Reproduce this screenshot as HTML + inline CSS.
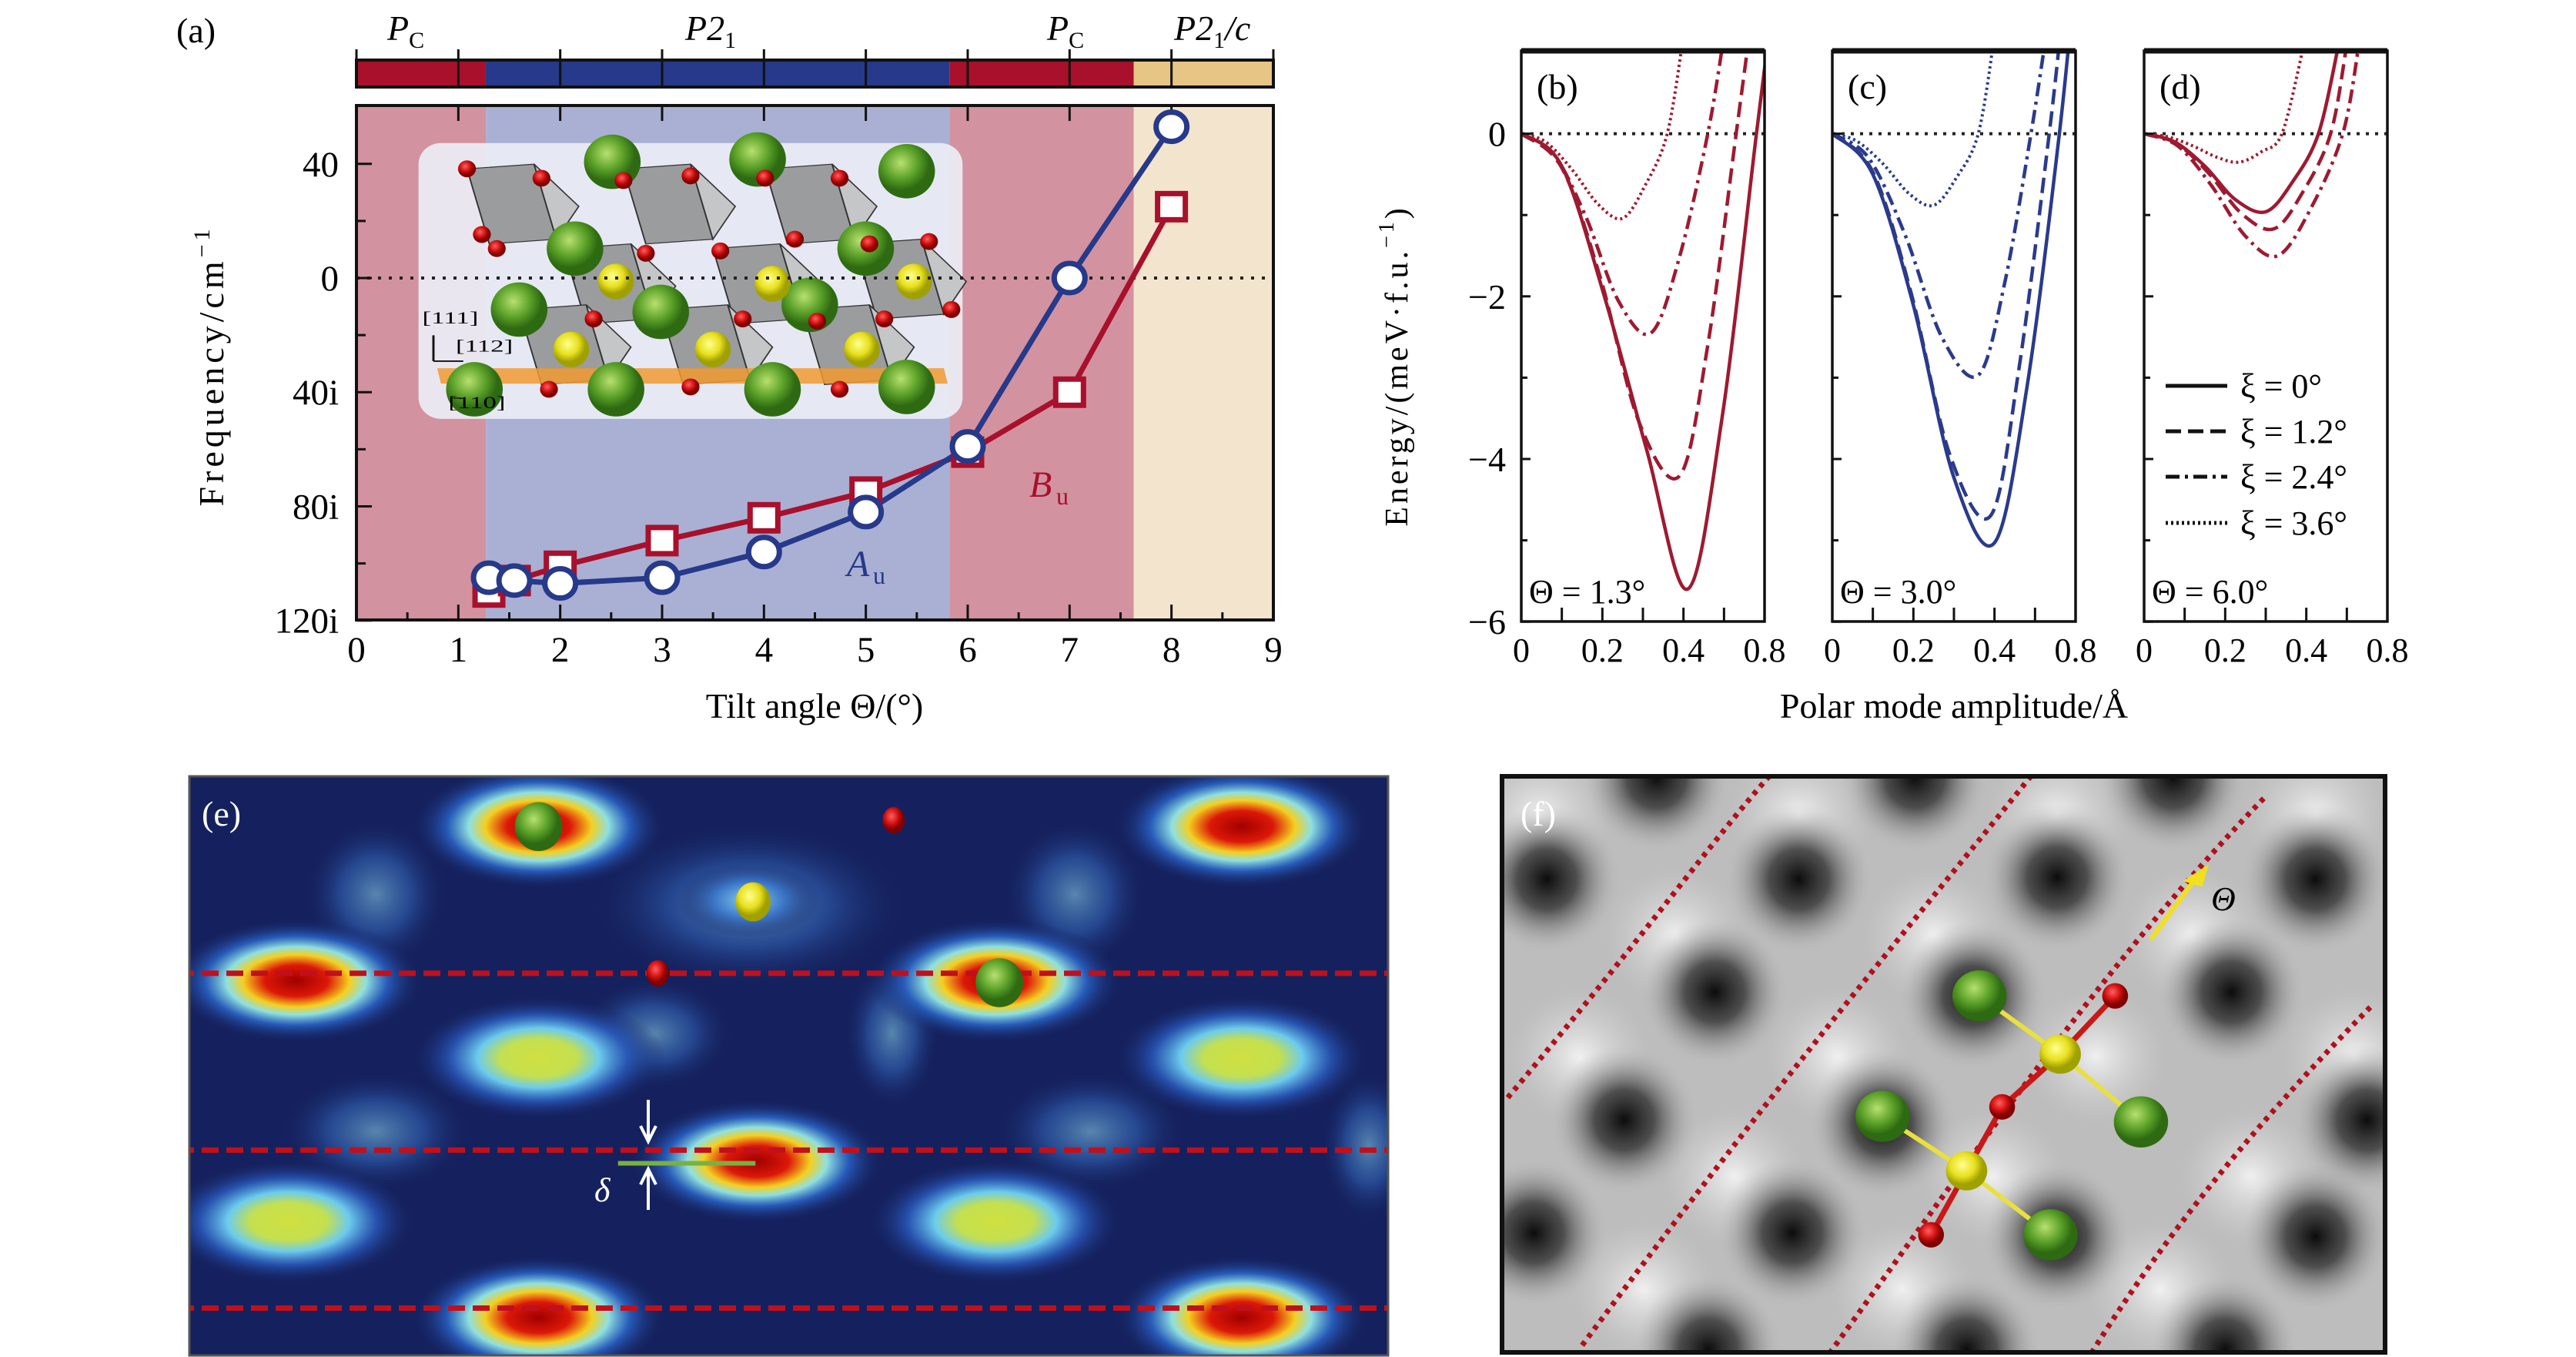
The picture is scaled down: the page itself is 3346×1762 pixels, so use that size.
<!DOCTYPE html>
<html><head><meta charset="utf-8"><style>
html,body{margin:0;padding:0;background:#fff;}
svg{display:block;}
text{font-family:"Liberation Serif",serif;}
</style></head><body>
<svg id="fig" xmlns="http://www.w3.org/2000/svg" width="3346" height="1762" viewBox="0 0 3346 1762">
<defs>
<radialGradient id="gRed"><stop offset="0" stop-color="#a00000"/><stop offset="0.25" stop-color="#dc1808"/><stop offset="0.42" stop-color="#f4d020"/><stop offset="0.55" stop-color="#8fe0e0"/><stop offset="0.72" stop-color="#2a64c8" stop-opacity="0.85"/><stop offset="1" stop-color="#16215c" stop-opacity="0"/></radialGradient>
<radialGradient id="gYel"><stop offset="0" stop-color="#d0e040"/><stop offset="0.3" stop-color="#c4e050"/><stop offset="0.48" stop-color="#6ccbee"/><stop offset="0.7" stop-color="#2a5cc0" stop-opacity="0.8"/><stop offset="1" stop-color="#16215c" stop-opacity="0"/></radialGradient>
<radialGradient id="gHalo"><stop offset="0" stop-color="#8fd8f0"/><stop offset="0.5" stop-color="#3a78d0" stop-opacity="0.8"/><stop offset="1" stop-color="#16215c" stop-opacity="0"/></radialGradient>
<radialGradient id="gDark"><stop offset="0" stop-color="#0c0c0c"/><stop offset="0.4" stop-color="#3a3a3a" stop-opacity="0.85"/><stop offset="1" stop-color="#bdbdbd" stop-opacity="0"/></radialGradient>
<radialGradient id="gLight"><stop offset="0" stop-color="#f0f0f0"/><stop offset="1" stop-color="#d0d0d0" stop-opacity="0"/></radialGradient>
<radialGradient id="gGreen" cx="0.4" cy="0.35"><stop offset="0" stop-color="#b8e070"/><stop offset="0.6" stop-color="#5aa028"/><stop offset="1" stop-color="#2e6a12"/></radialGradient>
<radialGradient id="gYball" cx="0.4" cy="0.35"><stop offset="0" stop-color="#ffff90"/><stop offset="0.6" stop-color="#e8e020"/><stop offset="1" stop-color="#a0a000"/></radialGradient>
<radialGradient id="gRball" cx="0.4" cy="0.35"><stop offset="0" stop-color="#ff6060"/><stop offset="0.6" stop-color="#d01010"/><stop offset="1" stop-color="#800000"/></radialGradient>
<clipPath id="clipA"><rect x="463" y="137" width="1191" height="668"/></clipPath>
<clipPath id="clipB"><rect x="1976" y="66" width="316" height="741"/></clipPath>
<clipPath id="clipC"><rect x="2380" y="66" width="316" height="741"/></clipPath>
<clipPath id="clipD"><rect x="2785" y="66" width="316" height="741"/></clipPath>
<clipPath id="clipE"><rect x="245" y="1007" width="1559" height="753"/></clipPath>
<clipPath id="clipF"><rect x="1950" y="1007" width="1148" height="749"/></clipPath>
</defs>
<g id="panelA"></g>
<g id="panelBCD"></g>
<g id="panelE" clip-path="url(#clipE)"></g>
<g id="panelF" clip-path="url(#clipF)"></g>
<g id="overlay"></g>
</svg>
<script>
// ---------- Panel (a) data ----------
const tiltB = [1.3, 1.55, 2, 3, 4, 5, 6, 7, 8];
const freqB = [-110, -106, -101, -92, -84, -75, -61, -40, 25];
const tiltA = [1.3, 1.55, 2, 3, 4, 5, 6, 7, 8];
const freqA = [-105, -106, -107, -105, -96, -82, -59, 0, 53];
const xTicksA = [0,1,2,3,4,5,6,7,8,9];
const yTicksA = [40, 0, -40, -80, -120];
const yTickLabelsA = ["40","0","40i","80i","120i"];
const phaseBounds = [0, 1.27, 5.82, 7.63, 9];
const phaseKinds = ["red","blue","red","tan"];

// ---------- Panels (b)-(d) data: amplitude (x) and energy (E) ----------
const ampB0=[0,.10,.205,.31,.41,.495,.58,.63], enB0=[0,-.4,-2.0,-3.9,-5.6,-3.5,0,2];
const ampB1=[0,.10,.195,.29,.39,.46,.53,.57], enB1=[0,-.42,-1.77,-3.54,-4.21,-2.6,0,1.5];
const ampB2=[0,.08,.16,.24,.32,.39,.46,.50], enB2=[0,-.25,-1.03,-2.06,-2.45,-1.52,0,1.2];
const ampB3=[0,.06,.125,.19,.25,.305,.36,.40], enB3=[0,-.1,-.44,-.87,-1.04,-.64,0,1.2];
const ampC0=[0,.10,.20,.30,.40,.48,.56,.60], enC0=[0,-.5,-2.11,-4.23,-5.03,-3.12,0,2];
const ampC1=[0,.10,.195,.29,.39,.46,.535,.57], enC1=[0,-.47,-1.97,-3.95,-4.7,-2.9,0,1.6];
const ampC2=[0,.09,.18,.27,.36,.425,.49,.53], enC2=[0,-.3,-1.25,-2.5,-2.97,-1.84,0,1.3];
const ampC3=[0,.06,.125,.19,.25,.305,.36,.40], enC3=[0,-.09,-.37,-.74,-.88,-.55,0,1.2];
const ampD0=[0,.075,.15,.225,.30,.365,.43,.48], enD0=[0,-.1,-.4,-.81,-.96,-.6,0,1.1];
const ampD1=[0,.08,.16,.24,.32,.39,.46,.50], enD1=[0,-.12,-.49,-.98,-1.17,-.73,0,1.1];
const ampD2=[0,.083,.165,.25,.33,.41,.49,.53], enD2=[0,-.15,-.63,-1.26,-1.5,-.93,0,1.1];
const ampD3=[0,.06,.12,.18,.235,.29,.34,.39], enD3=[0,-.04,-.15,-.29,-.35,-.22,0,1.0];
const xTicksE = [0, 0.2, 0.4, 0.6];
const xTickLabelsE = ["0","0.2","0.4","0.8"];
const yTicksE = [0, -2, -4, -6];
const yTickLabelsE = ["0","\u22122","\u22124","\u22126"];
const legendLabels = ["\u03be = 0\u00b0","\u03be = 1.2\u00b0","\u03be = 2.4\u00b0","\u03be = 3.6\u00b0"];
const thetaLabels = ["\u0398 = 1.3\u00b0","\u0398 = 3.0\u00b0","\u0398 = 6.0\u00b0"];

const NS="http://www.w3.org/2000/svg";
function mk(parent, tag, attrs, txt){const e=document.createElementNS(NS,tag);for(const k in attrs)e.setAttribute(k,attrs[k]);if(txt!==undefined)e.textContent=txt;parent.appendChild(e);return e;}
function smooth(pts){let d="M"+pts[0][0]+","+pts[0][1];for(let i=0;i<pts.length-1;i++){const p0=pts[Math.max(0,i-1)],p1=pts[i],p2=pts[i+1],p3=pts[Math.min(pts.length-1,i+2)];const c1=[p1[0]+(p2[0]-p0[0])/6,p1[1]+(p2[1]-p0[1])/6],c2=[p2[0]-(p3[0]-p1[0])/6,p2[1]-(p3[1]-p1[1])/6];d+=" C"+c1+" "+c2+" "+p2;}return d;}

// ---------- Panel A ----------
const A=document.getElementById('panelA');
const ax=x=>463+x*132.33, ay=v=>361-3.706*v;
const bg={red:"#d3929f",blue:"#a9b0d3",tan:"#f3e5cd"}, bar={red:"#a8102c",blue:"#26398a",tan:"#e6c585"};
for(let i=0;i<phaseKinds.length;i++){
  const r=mk(A,'rect',{x:ax(phaseBounds[i]),y:137,width:ax(phaseBounds[i+1])-ax(phaseBounds[i]),height:668,fill:bg[phaseKinds[i]]});
  
  
  const b=mk(A,'rect',{x:ax(phaseBounds[i]),y:78,width:ax(phaseBounds[i+1])-ax(phaseBounds[i]),height:35,fill:bar[phaseKinds[i]]});
  
  
}
mk(A,'rect',{x:463,y:78,width:1191,height:35,fill:"none",stroke:"#111","stroke-width":4});
xTicksA.forEach(t=>{mk(A,'line',{x1:ax(t),x2:ax(t),y1:64,y2:113,stroke:"#111","stroke-width":3});});
// inset
const inset=mk(A,'g',{transform:"translate(200,0) scale(0.968,0.609)"});


mk(inset,'rect',{x:355,y:305,width:730,height:588,rx:30,ry:45,fill:"#eceef5","fill-opacity":0.92});
const octs=[[470,420],[680,420],[870,420],[600,590],[800,590],[990,580],[540,720],[730,720],[920,720]];
octs.forEach(o=>{mk(inset,'polygon',{points:`${o[0]-50},${o[1]-60} ${o[0]+40},${o[1]-70} ${o[0]+70},${o[1]+90} ${o[0]-20},${o[1]+100}`,fill:"#9a9c9e",stroke:"#333","stroke-width":2});mk(inset,'polygon',{points:`${o[0]+40},${o[1]-70} ${o[0]+70},${o[1]+90} ${o[0]+100},${o[1]+20}`,fill:"#c4c6c8",stroke:"#333","stroke-width":2});});
mk(inset,'polygon',{points:"380,785 1060,785 1065,818 385,818",fill:"#f09a30","fill-opacity":0.85});
[[615,345],[810,340],[1010,365],[565,530],[955,530],[490,660],[680,665],[880,650],[620,830],[830,830],[1010,825],[430,830]].forEach(g=>mk(inset,'ellipse',{cx:g[0],cy:g[1],rx:38,ry:58,fill:"url(#gGreen)"}));
[[620,600],[830,605],[1020,600],[560,745],[750,745],[950,745]].forEach(g=>mk(inset,'ellipse',{cx:g[0],cy:g[1],rx:24,ry:38,fill:"url(#gYball)"}));
[[420,360],[520,380],[630,385],[720,375],[820,380],[920,380],[460,530],[660,540],[760,535],[960,520],[1040,515],[1070,660],[590,680],[790,680],[890,685],[980,680],[530,830],[720,825],[920,830],[440,500],[860,510]].forEach(g=>mk(inset,'ellipse',{cx:g[0],cy:g[1],rx:12,ry:18,fill:"url(#gRball)"}));
mk(inset,'text',{x:360,y:690,"font-size":36},"[111]");
mk(inset,'text',{x:405,y:750,"font-size":36},"[112]");
mk(inset,'text',{x:395,y:870,"font-size":36},"[\u0304110]");
mk(inset,'path',{d:"M375,770 V715 M375,770 H415",stroke:"#111","stroke-width":3,fill:"none"});
// zero dotted
mk(A,'line',{x1:463,x2:1654,y1:ay(0),y2:ay(0),stroke:"#222","stroke-width":4,"stroke-dasharray":"4 10"});
// axes frame
mk(A,'rect',{x:463,y:137,width:1191,height:668,fill:"none",stroke:"#111","stroke-width":4});
xTicksA.forEach(t=>{mk(A,'line',{x1:ax(t),x2:ax(t),y1:805,y2:785,stroke:"#111","stroke-width":3});mk(A,'line',{x1:ax(t),x2:ax(t),y1:137,y2:157,stroke:"#111","stroke-width":3});
  const l=mk(A,'text',{x:ax(t),y:859,"font-size":47,"text-anchor":"middle"},String(t));});
for(let t=0.5;t<9;t+=1){mk(A,'line',{x1:ax(t),x2:ax(t),y1:805,y2:795,stroke:"#111","stroke-width":3});}
yTicksA.forEach((t,i)=>{mk(A,'line',{x1:463,x2:483,y1:ay(t),y2:ay(t),stroke:"#111","stroke-width":3});
  const l=mk(A,'text',{x:440,y:ay(t)+16,"font-size":47,"text-anchor":"end"},yTickLabelsA[i]);});
[20,-20,-60,-100].forEach(t=>mk(A,'line',{x1:463,x2:475,y1:ay(t),y2:ay(t),stroke:"#111","stroke-width":3}));
// series
function polyl(xs,ys){return xs.map((x,i)=>ax(x)+","+ay(ys[i])).join(" ");}
const lineB=mk(A,'polyline',{points:polyl(tiltB,freqB),fill:"none",stroke:"#a8102c","stroke-width":7});

const lineA=mk(A,'polyline',{points:polyl(tiltA,freqA),fill:"none",stroke:"#26398a","stroke-width":7});

tiltB.forEach((t,i)=>{const s=mk(A,'rect',{x:ax(t)-18,y:ay(freqB[i])-17,width:36,height:34,fill:"#fff",stroke:"#a8102c","stroke-width":7});
  });
tiltA.forEach((t,i)=>{const c=mk(A,'ellipse',{cx:ax(t),cy:ay(freqA[i]),rx:20,ry:19,fill:"#fff",stroke:"#26398a","stroke-width":7});
  });
mk(A,'text',{x:1337,y:645,"font-size":48,fill:"#a8102c","font-style":"italic"},"B");
mk(A,'text',{x:1372,y:655,"font-size":32,fill:"#a8102c"},"u");
mk(A,'text',{x:1100,y:748,"font-size":48,fill:"#26398a","font-style":"italic"},"A");
mk(A,'text',{x:1134,y:758,"font-size":32,fill:"#26398a"},"u");
// phase labels
function phaseLabel(x,main,sub,tail){const t=mk(A,'text',{x:x,y:52,"font-size":46,"font-style":"italic"},main);
  const s=document.createElementNS(NS,'tspan');s.setAttribute('font-size',30);s.setAttribute('font-style','normal');s.setAttribute('dy',10);s.textContent=sub;t.appendChild(s);
  if(tail){const u=document.createElementNS(NS,'tspan');u.setAttribute('dy',-10);u.textContent=tail;t.appendChild(u);}}
phaseLabel(503,"P","C");phaseLabel(890,"P2","1");phaseLabel(1360,"P","C");phaseLabel(1525,"P2","1","/c");
mk(A,'text',{x:229,y:55,"font-size":46},"(a)");
const ytA=mk(A,'text',{x:0,y:0,"font-size":46,"text-anchor":"middle","letter-spacing":5,transform:"translate(290,475) rotate(-90)"},"Frequency/cm");
const sup=document.createElementNS(NS,'tspan');sup.setAttribute('dy',-18);sup.setAttribute('font-size',30);sup.textContent="\u22121";ytA.appendChild(sup);

const xtA=mk(A,'text',{x:1058,y:932,"font-size":46,"text-anchor":"middle"},"Tilt angle \u0398/(\u00b0)");


// ---------- Panels B-D ----------
const P=document.getElementById('panelBCD');
const lefts=[1976,2380,2785], W=316, TOP=66, BOT=807;
const ey=E=>173.6-105.6*E;
const red="#9e1a30", blue="#2a3a8c";
const dashes=["", "20 9", "18 7 4 7", "3 4"];
const panelsData=[
  {clip:"clipB",color:red,lab:"(b)",series:[[ampB0,enB0],[ampB1,enB1],[ampB2,enB2],[ampB3,enB3]]},
  {clip:"clipC",color:blue,lab:"(c)",series:[[ampC0,enC0],[ampC1,enC1],[ampC2,enC2],[ampC3,enC3]]},
  {clip:"clipD",color:red,lab:"(d)",series:[[ampD0,enD0],[ampD1,enD1],[ampD2,enD2],[ampD3,enD3]]}];
panelsData.forEach((pd,p)=>{
  const L=lefts[p], ex=x=>L+x/0.6*W;
  const g=mk(P,'g',{});
  
  mk(g,'line',{x1:L,x2:L+W,y1:ey(0),y2:ey(0),stroke:"#222","stroke-width":4,"stroke-dasharray":"4 8"});
  const cg=mk(g,'g',{"clip-path":`url(#${pd.clip})`});
  pd.series.forEach((s,k)=>{const pts=s[0].map((x,i)=>[ex(x),ey(s[1][i])]);
    const path=mk(cg,'path',{d:smooth(pts),fill:"none",stroke:pd.color,"stroke-width":k===3?4:4.5,"stroke-dasharray":dashes[k]});
    });
  mk(g,'rect',{x:L,y:TOP,width:W,height:BOT-TOP,fill:"none",stroke:"#111","stroke-width":3.5});
  mk(g,'line',{x1:L,x2:L+W,y1:TOP,y2:TOP,stroke:"#111","stroke-width":7});
  for(let t=0;t<=0.6001;t+=0.1){mk(g,'line',{x1:ex(t),x2:ex(t),y1:BOT,y2:BOT-18,stroke:"#111","stroke-width":3});}
  yTicksE.forEach(t=>mk(g,'line',{x1:L,x2:L+12,y1:ey(t),y2:ey(t),stroke:"#111","stroke-width":3}));
  [-1,-3,-5].forEach(t=>mk(g,'line',{x1:L,x2:L+8,y1:ey(t),y2:ey(t),stroke:"#111","stroke-width":3}));
  xTicksE.forEach((t,i)=>{const l=mk(g,'text',{x:ex(t),y:859,"font-size":44,"text-anchor":"middle"},xTickLabelsE[i]);});
  mk(g,'text',{x:L+20,y:128,"font-size":46},pd.lab);
  const th=mk(g,'text',{x:L+10,y:783,"font-size":44},thetaLabels[p]);
});
yTicksE.forEach((t,i)=>{const l=mk(P,'text',{x:1956,y:ey(t)+16,"font-size":46,"text-anchor":"end"},yTickLabelsE[i]);});
const ytE=mk(P,'text',{x:0,y:0,"font-size":42,"text-anchor":"middle","letter-spacing":4,transform:"translate(1828,475) rotate(-90)"},"Energy/(meV\u00b7f.u.");
const sup2=document.createElementNS(NS,'tspan');sup2.setAttribute('dy',-18);sup2.setAttribute('font-size',28);sup2.textContent="\u22121";ytE.appendChild(sup2);
const cl=document.createElementNS(NS,'tspan');cl.setAttribute('dy',18);cl.textContent=")";ytE.appendChild(cl);

const xtE=mk(P,'text',{x:2538,y:932,"font-size":46,"text-anchor":"middle"},"Polar mode amplitude/\u00c5");

const legY=[501,560,619,679];
legendLabels.forEach((lab,k)=>{const g=mk(P,'g',{});
  mk(g,'line',{x1:2813,x2:2893,y1:legY[k],y2:legY[k],stroke:"#111","stroke-width":5,"stroke-dasharray":dashes[k]});
  mk(g,'text',{x:2910,y:legY[k]+15,"font-size":44},lab);});

// ---------- Panel E (zoom-space coordinates) ----------
const E=document.getElementById('panelE');
mk(E,'rect',{x:245,y:1007,width:1559,height:753,fill:"#15215e"});
const ge=mk(E,'g',{transform:"translate(230,1000) scale(1.032,0.4885)"});
[[720,360,200,220],[250,330,90,200],[1130,330,90,200],[900,700,60,200],[250,960,120,160],[1150,960,120,160],[1500,1000,60,200],[600,700,100,150]].forEach(b=>mk(ge,'ellipse',{cx:b[0],cy:b[1],rx:b[2],ry:b[3],fill:"url(#gHalo)","fill-opacity":0.55}));
[[455,150,"gRed"],[1340,150,"gRed"],[150,560,"gRed"],[1030,560,"gRed"],[455,765,"gYel"],[1340,765,"gYel"],[730,1040,"gRed"],[140,1200,"gYel"],[1030,1200,"gYel"],[455,1455,"gRed"],[1340,1455,"gRed"],[720,345,"gHalo"]].forEach(b=>{
  const el=mk(ge,'ellipse',{cx:b[0],cy:b[1],rx:b[2]==="gHalo"?90:160,ry:b[2]==="gHalo"?100:165,fill:"url(#"+b[2]+")"});
  });
[540,1010,1430].forEach(y=>{const l=mk(ge,'line',{x1:0,x2:1530,y1:y,y2:y,stroke:"#c0101c","stroke-width":7,"stroke-dasharray":"22 10","vector-effect":"non-scaling-stroke"});});
mk(ge,'ellipse',{cx:455,cy:150,rx:30,ry:65,fill:"url(#gGreen)"});
mk(ge,'ellipse',{cx:1035,cy:565,rx:30,ry:65,fill:"url(#gGreen)"});
mk(ge,'ellipse',{cx:725,cy:350,rx:22,ry:52,fill:"url(#gYball)"});
mk(ge,'ellipse',{cx:902,cy:133,rx:14,ry:35,fill:"url(#gRball)"});
mk(ge,'ellipse',{cx:605,cy:540,rx:14,ry:35,fill:"url(#gRball)"});
mk(ge,'line',{x1:555,x2:728,y1:1045,y2:1045,stroke:"#7ab040","stroke-width":6,"vector-effect":"non-scaling-stroke"});
mk(E,'path',{d:"M842,1428 V1478 M832,1462 L842,1482 L852,1462 M842,1571 V1522 M832,1538 L842,1518 L852,1538",stroke:"#fff","stroke-width":4,fill:"none"});
mk(E,'text',{x:772,y:1560,"font-size":44,fill:"#fff","font-style":"italic"},"\u03b4");
mk(E,'text',{x:262,y:1072,"font-size":46,fill:"#fff"},"(e)");
mk(document.getElementById('overlay'),'rect',{x:246,y:1008,width:1557,height:752,fill:"none",stroke:"#555","stroke-width":3});

// ---------- Panel F ----------
const F=document.getElementById('panelF');
mk(F,'rect',{x:1950,y:1007,width:1148,height:749,fill:"#bdbdbd"});
const gf=mk(F,'g',{transform:"translate(1900,1000) scale(0.839,0.4885)"});
[[330,440],[730,440],[1130,440],[180,760],[580,760],[980,760],[1380,760],[420,1080],[820,1080],[1220,1080],[280,1380],[680,1380],[1080,1380],[120,120],[520,120],[920,120],[1320,120]].forEach(s=>mk(gf,'ellipse',{cx:s[0],cy:s[1],rx:110,ry:180,fill:"url(#gLight)"}));
[[130,290],[520,290],[920,285],[1320,290],[390,590],[790,600],[1190,590],[250,930],[650,940],[1400,930],[110,1230],[510,1230],[920,1240],[1320,1240],[380,1540],[780,1540],[1180,1540],[300,20],[700,20],[1100,20]].forEach(s=>{
  const d=mk(gf,'ellipse',{cx:s[0],cy:s[1],rx:115,ry:200,fill:"url(#gDark)"});});
[["M475,15 C380,200 300,400 65,880"],["M880,15 C700,400 500,800 180,1540"],["M1240,75 C1000,500 800,1000 570,1545"],["M1405,630 C1250,900 1100,1200 975,1545"]].forEach(p=>{
  const l=mk(gf,'path',{d:p[0],fill:"none",stroke:"#b0101c","stroke-width":7,"stroke-dasharray":"6 7","vector-effect":"non-scaling-stroke"});});
mk(gf,'polyline',{points:"725,1235 780,1065 835,895 925,755 1010,600",fill:"none",stroke:"#c81818","stroke-width":7,"vector-effect":"non-scaling-stroke"});
mk(gf,'polyline',{points:"650,920 780,1065 910,1235",fill:"none",stroke:"#e8e040","stroke-width":6,"vector-effect":"non-scaling-stroke"});
mk(gf,'polyline',{points:"800,600 925,755 1050,935",fill:"none",stroke:"#e8e040","stroke-width":6,"vector-effect":"non-scaling-stroke"});
[[800,600],[1050,935],[650,920],[910,1235]].forEach(g=>mk(gf,'ellipse',{cx:g[0],cy:g[1],rx:42,ry:68,fill:"url(#gGreen)"}));
[[925,755],[780,1065]].forEach(g=>mk(gf,'ellipse',{cx:g[0],cy:g[1],rx:32,ry:52,fill:"url(#gYball)"}));
[[1010,600],[835,895],[725,1235]].forEach(g=>mk(gf,'ellipse',{cx:g[0],cy:g[1],rx:20,ry:34,fill:"url(#gRball)"}));
mk(gf,'line',{x1:1065,y1:450,x2:1140,y2:275,stroke:"#f0e020","stroke-width":6,"vector-effect":"non-scaling-stroke"});
mk(gf,'polygon',{points:"1155,250 1115,295 1145,310",fill:"#f0e020"});
mk(F,'text',{x:2872,y:1182,"font-size":44,"font-style":"italic"},"\u0398");
mk(F,'text',{x:1975,y:1072,"font-size":46,fill:"#fff"},"(f)");
mk(document.getElementById('overlay'),'rect',{x:1951,y:1008,width:1147,height:748,fill:"none",stroke:"#111","stroke-width":6});
</script>
</body></html>
